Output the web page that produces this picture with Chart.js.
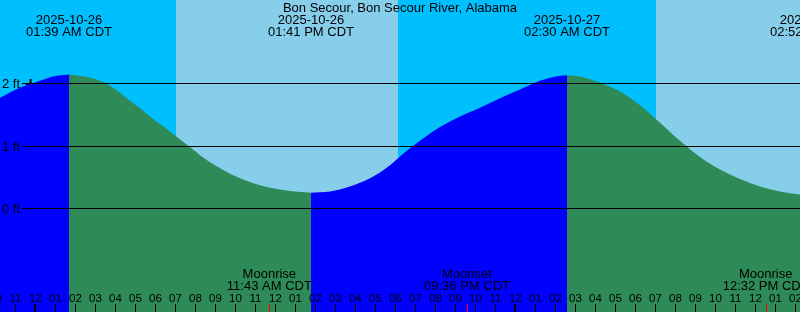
<!DOCTYPE html>
<html>
<head>
<meta charset="utf-8">
<title>Bon Secour tide chart</title>
<script src="https://cdn.jsdelivr.net/npm/chart.js@4.4.1/dist/chart.umd.min.js"></script>
<style>
    html, body { margin: 0; padding: 0; background: #fff; }
    #tideChart { display: block; }
</style>
</head>
<body>
<canvas id="tideChart" width="800" height="312"></canvas>
<script>
// hours after midnight 2025-10-26 (CDT), heights in ft
var tideHours = [-1.75, -0.75, 0.25, 0.9, 1.7, 2.75, 3.25, 3.75, 4.25, 4.75, 5.25, 5.75, 6.25, 6.75, 7.25,
    7.75, 8.25, 9.25, 10.25, 11.25, 12.25, 13.25, 13.8, 14.75, 15.75, 16.75, 17.75, 18.25, 18.75, 19.25,
    20.25, 21.25, 22.25, 23.25, 24.25, 25.25, 26.25, 26.6, 27.25, 28.25, 29.25, 30.25, 31.25, 32.25,
    33.25, 34.25, 35.25, 36.25, 37.25, 38.25];
var tideFeet = [1.77, 1.93, 2.04, 2.11, 2.14, 2.09, 2.04, 1.96, 1.85, 1.72, 1.60, 1.47, 1.35, 1.23, 1.10,
    0.98, 0.85, 0.64, 0.48, 0.37, 0.30, 0.26, 0.25, 0.27, 0.35, 0.48, 0.69, 0.83, 0.96, 1.08,
    1.30, 1.47, 1.61, 1.76, 1.90, 2.04, 2.12, 2.13, 2.11, 2.01, 1.87, 1.65, 1.37, 1.08,
    0.82, 0.62, 0.47, 0.35, 0.27, 0.22];

// high / low tides
var extremeHours = [1.7, 13.8, 26.6, 38.9];
var extremeDates = ['2025-10-26', '2025-10-26', '2025-10-27', '2025-10-27'];
var extremeTimes = ['01:39 AM CDT', '01:41 PM CDT', '02:30 AM CDT', '02:52 PM CDT'];

// sun: daylight intervals
var dayStart = [7.05, 31.05];
var dayEnd = [18.15, 42.15];

// moon
var moonHours = [11.717, 21.6, 36.533];
var moonNames = ['Moonrise', 'Moonset', 'Moonrise'];
var moonTimes = ['11:43 AM CDT', '09:36 PM CDT', '12:32 PM CDT'];

var feetTicks = [0, 1, 2];
var nowPoint = { x: -0.22, y: 1.99 };
var titleText = 'Bon Secour, Bon Secour River, Alabama';

var FONT = '"Liberation Sans", Arial, sans-serif';
var NIGHT = '#00bfff';
var DAY = '#87ceeb';
var RISING = '#0000ff';
var FALLING = '#2e8b57';

function splitSegments() {
    var sets = [];
    var bounds = [0];
    extremeHours.forEach(function(h) {
        var i = tideHours.indexOf(h);
        if (i > 0) bounds.push(i);
    });
    bounds.push(tideHours.length - 1);
    for (var s = 0; s < bounds.length - 1; s++) {
        var a = bounds[s], b = bounds[s + 1];
        var pts = [];
        for (var i = a; i <= b; i++) {
            pts.push({ x: tideHours[i], y: tideFeet[i] });
        }
        var rising = tideFeet[b] > tideFeet[a];
        sets.push({
            data: pts,
            fill: 'start',
            backgroundColor: rising ? RISING : FALLING,
            borderWidth: 0,
            pointRadius: 0,
            tension: 0.4,
            cubicInterpolationMode: 'monotone'
        });
    }
    return sets;
}

function hourLabel(h) {
    var v = ((h % 12) + 12) % 12;
    if (v === 0) v = 12;
    return (v < 10 ? '0' : '') + v;
}

var backgroundPlugin = {
    id: 'background',
    beforeDatasetsDraw: function(chart) {
        var ctx = chart.ctx, area = chart.chartArea, x = chart.scales.x;
        ctx.save();
        ctx.fillStyle = NIGHT;
        ctx.fillRect(area.left, area.top, area.right - area.left, area.bottom - area.top);
        ctx.fillStyle = DAY;
        for (var i = 0; i < dayStart.length; i++) {
            var x0 = Math.round(x.getPixelForValue(dayStart[i]));
            var x1 = Math.round(x.getPixelForValue(dayEnd[i]));
            ctx.fillRect(x0, area.top, x1 - x0, area.bottom - area.top);
        }
        ctx.restore();
    }
};

var overlayPlugin = {
    id: 'overlay',
    afterDatasetsDraw: function(chart) {
        var ctx = chart.ctx, area = chart.chartArea;
        var xs = chart.scales.x, ys = chart.scales.y;
        ctx.save();
        ctx.fillStyle = '#000';

        // feet grid + labels
        ctx.font = '13px ' + FONT;
        ctx.textAlign = 'left';
        ctx.textBaseline = 'alphabetic';
        feetTicks.forEach(function(f) {
            var y = Math.round(ys.getPixelForValue(f));
            ctx.fillRect(22, y, area.right - 22, 1);
            ctx.fillText(f + ' ft', 2, y + 5);
        });

        // title
        ctx.textAlign = 'center';
        ctx.fillText(titleText, (area.left + area.right) / 2, 12);

        // high / low labels
        extremeHours.forEach(function(h, i) {
            var x = xs.getPixelForValue(h);
            ctx.fillText(extremeDates[i], x, 24);
            ctx.fillText(extremeTimes[i], x, 36);
        });

        // moon labels
        moonHours.forEach(function(h, i) {
            var x = xs.getPixelForValue(h);
            ctx.fillText(moonNames[i], x, 278);
            ctx.fillText(moonTimes[i], x, 290);
        });

        // hour ticks
        ctx.font = '11.5px ' + FONT;
        for (var h = Math.floor(xs.min) - 1; h <= Math.ceil(xs.max) + 1; h++) {
            var px = Math.round(xs.getPixelForValue(h));
            ctx.fillText(hourLabel(h), px + 0.5, 302);
            if (h % 24 === 0) {
                ctx.fillRect(px - 1, 304, 2, 8);
            } else {
                ctx.fillRect(px, 304, 1, 8);
            }
        }

        ctx.fillStyle = '#ff0000';
        moonHours.forEach(function(h) {
            ctx.fillRect(Math.round(xs.getPixelForValue(h)), 304, 1, 8);
        });
        ctx.restore();
    }
};

var datasets = splitSegments();
datasets.push({
    type: 'scatter',
    data: [nowPoint],
    pointStyle: 'cross',
    pointRadius: 5,
    borderColor: '#000',
    borderWidth: 2,
    showLine: false
});

var chart = new Chart(document.getElementById('tideChart').getContext('2d'), {
    type: 'line',
    data: { datasets: datasets },
    options: {
        responsive: false,
        animation: false,
        events: [],
        layout: { padding: 0, autoPadding: false },
        plugins: {
            legend: { display: false },
            tooltip: { enabled: false }
        },
        scales: {
            x: { type: 'linear', min: -1.75, max: 38.25, display: false },
            y: { type: 'linear', min: -1.6592, max: 3.3328, display: false }
        }
    },
    plugins: [backgroundPlugin, overlayPlugin]
});
</script>
</body>
</html>
